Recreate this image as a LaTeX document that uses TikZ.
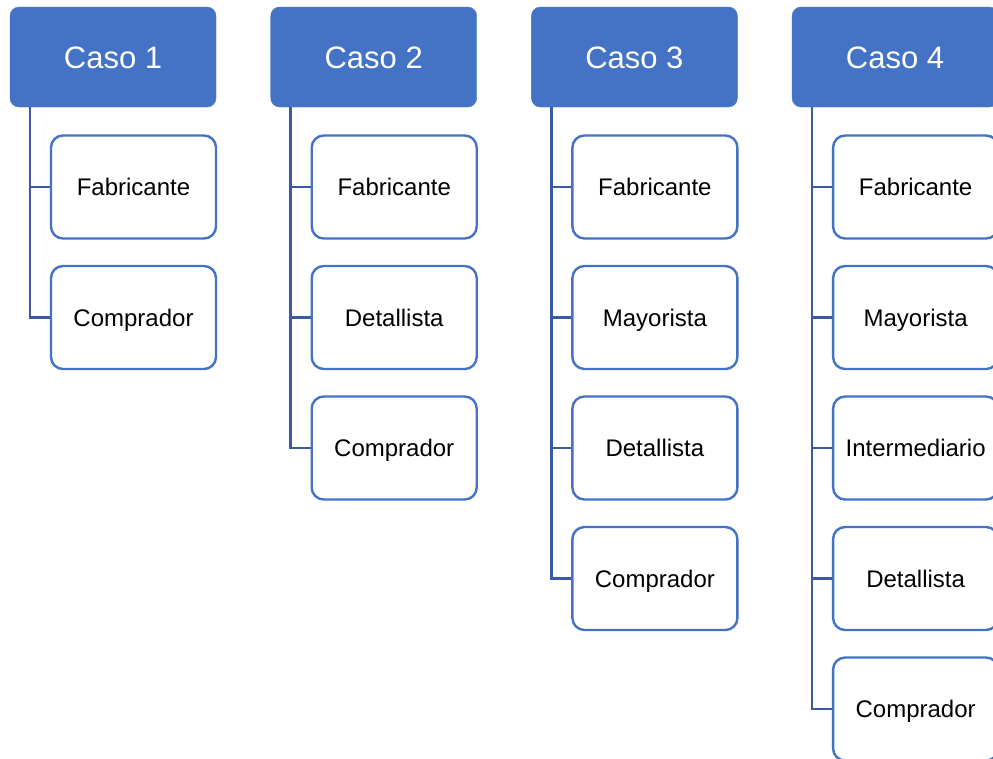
\documentclass[tikz,border=0pt]{standalone}
\usepackage{fontspec}
\setmainfont{Liberation Sans}
\definecolor{hdrblue}{HTML}{4472C4}
\definecolor{trunkblue}{HTML}{3A5BA4}

\begin{document}
\begin{tikzpicture}[x=1pt,y=-1pt,
  header/.style={fill=hdrblue, draw=hdrblue, rounded corners=9pt,
    minimum width=206pt, minimum height=100pt, inner sep=0pt,
    text height=22.3pt, text depth=0pt,
    text=white, font=\fontsize{31}{36}\selectfont},
  item/.style={draw=hdrblue, line width=2.4pt, fill=white, rounded corners=12pt,
    minimum width=165pt, minimum height=103pt, inner sep=0pt,
    text height=17.2pt, text depth=0pt,
    font=\fontsize{24}{28}\selectfont},
  link/.style={draw=trunkblue, line width=2.6pt}]
\useasboundingbox (0,0) rectangle (993,758);

\foreach \c/\items in {1/{Fabricante,Comprador},
                       2/{Fabricante,Detallista,Comprador},
                       3/{Fabricante,Mayorista,Detallista,Comprador},
                       4/{Fabricante,Mayorista,Intermediario,Detallista,Comprador}}{
  \pgfmathsetmacro{\L}{10+260.7*(\c-1)}
  % column heading and the top of its trunk line
  \node[header] (h\c) at (\L+103,57) {Caso \c};
  \coordinate (t\c) at (\L+20,107);
  % stacked entries, each tied to the trunk
  \foreach \t [count=\k] in \items {
    \node[item] (c\c-\k) at (\L+123.5,187+130.5*\k-130.5) {\t};
    \draw[link] (t\c) |- (c\c-\k.west);
  }
}
\end{tikzpicture}
\end{document}
